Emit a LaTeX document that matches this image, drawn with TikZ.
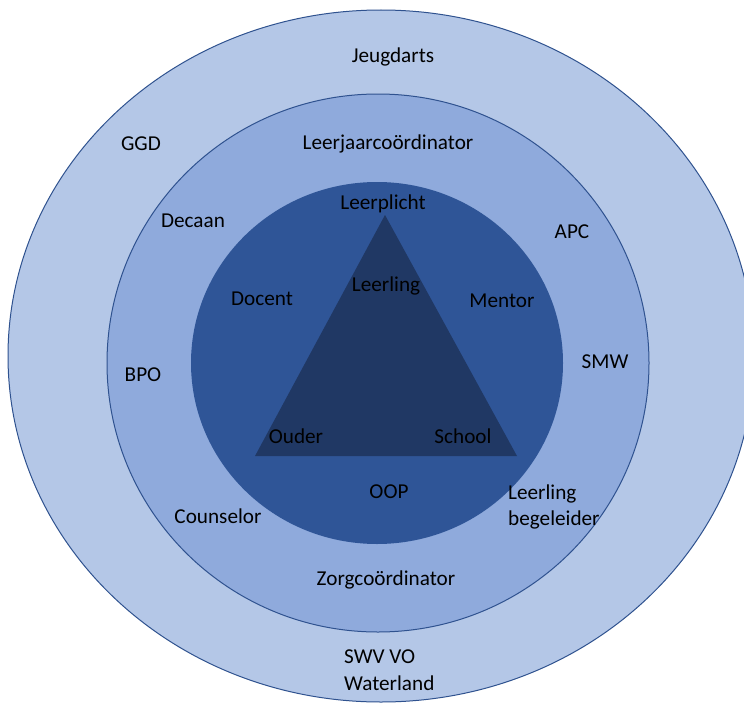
\documentclass[tikz,border=0pt]{standalone}
\usepackage{fontspec}
\setmainfont{Carlito}
\definecolor{ringout}{HTML}{B4C7E7}
\definecolor{ringmid}{HTML}{8FAADC}
\definecolor{ringin}{HTML}{2F5597}
\definecolor{tri}{HTML}{203864}
\definecolor{edge}{HTML}{2F528F}
\tikzset{
  lbl/.style={inner sep=0pt, text=black, font=\fontsize{21.2}{26.5}\selectfont},
  lbll/.style={lbl, align=left},
  ring/.style={draw=edge, line width=1pt}
}
\begin{document}
\begin{tikzpicture}[x=1pt,y=-1pt]
\useasboundingbox (0,0) rectangle (744,709);
\clip (0,0) rectangle (744,709);
\fill[white] (0,0) rectangle (744,709);
\path[ring, fill=ringout] (381,356) ellipse [x radius=373, y radius=346];
\path[ring, fill=ringmid] (378,363) ellipse [x radius=271, y radius=269];
\path[fill=ringin] (377,363) ellipse [x radius=186, y radius=181];
\path[fill=tri] (385,215) -- (517,456) -- (255,456) -- cycle;

\node[lbl] (jeugd) at (393,57) {Jeugdarts};
\node[lbl] (ggd) at (141,144) {GGD};
\node[lbl] (ljc) at (388,144) {Leerjaarcoördinator};
\node[lbl] (decaan) at (193,221) {Decaan};
\node[lbl] (lplicht) at (383,204) {Leerplicht};
\node[lbl] (apc) at (572,232) {APC};
\node[lbl] (leerling) at (386,286) {Leerling};
\node[lbl] (docent) at (262,299) {Docent};
\node[lbl] (mentor) at (502,301) {Mentor};
\node[lbl] (smw) at (605,362) {SMW};
\node[lbl] (bpo) at (143,375) {BPO};
\node[lbl] (ouder) at (296,436) {Ouder};
\node[lbl] (school) at (463,436) {School};
\node[lbl] (oop) at (389,492) {OOP};
\node[lbll, anchor=west] (lbeg) at (508,507) {Leerling\\begeleider};
\node[lbl] (couns) at (218,516) {Counselor};
\node[lbl] (zorg) at (386,580) {Zorgcoördinator};
\node[lbll, anchor=west] (swv) at (344,670) {SWV VO\\Waterland};
\end{tikzpicture}
\end{document}
